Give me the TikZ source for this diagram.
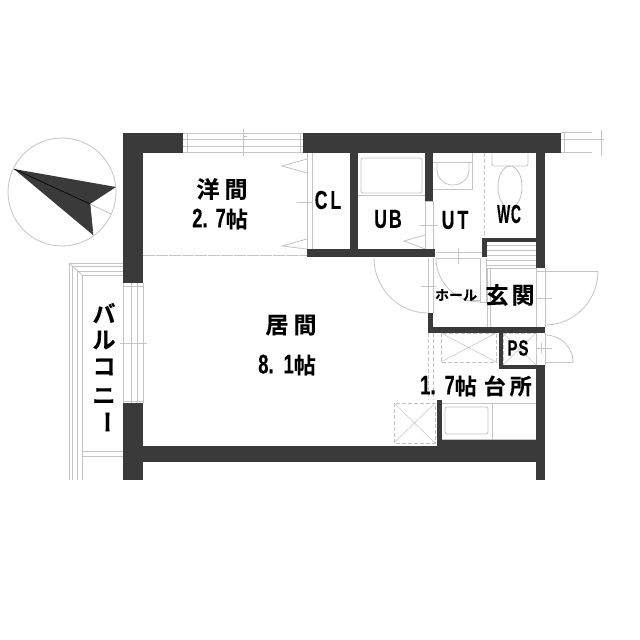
\documentclass[tikz,border=0pt]{standalone}
\usepackage{fontspec}
\newfontfamily\jpf[FakeBold=0.4]{Noto Sans CJK JP Bold}
\newfontfamily\latf[FakeStretch=0.68,FakeBold=0.3]{Liberation Sans Bold}
\definecolor{wallc}{HTML}{3A3A3A}
\definecolor{linec}{HTML}{C4C4C4}
\tikzset{
 wall/.style={fill=wallc,draw=none},
 thin line/.style={draw=linec,line width=0.8pt},
 dash line/.style={draw=linec,line width=0.9pt,dash pattern=on 4pt off 2pt},
 lbl/.style={inner sep=0pt,text=black,anchor=center},
}
\newcommand{\J}[1]{{\jpf #1}}
\newcommand{\Lt}[1]{{\latf #1}}
\begin{document}
\begin{tikzpicture}[x=1pt,y=-1pt]
\useasboundingbox (0,0) rectangle (640,640);
\fill[white] (0,0) rectangle (640,640);
% compass
\draw[draw=linec,line width=0.8pt] (62,192) circle (54);
\fill[wallc] (14,169) -- (116,187) -- (90,204) -- (93,235) -- cycle;
\draw[black,line width=0.6pt] (14,169) -- (90,204);
\draw[thin line] (90,204) -- (111,214);
\draw[draw=wallc,line width=0.6pt] (90,204) -- (93,235);
% balcony
\begin{scope}[thin line]
\draw (69,480) -- (69,263) -- (123,263);
\draw (72,480) -- (72,266) -- (123,266);
\draw (77,480) -- (77,271) -- (123,271);
\draw (82,480) -- (82,275) -- (123,275);
\draw (82,451) -- (123,451);
\draw (82,456) -- (123,456);
\draw (69,263) -- (82,275);
% left window
\draw (123,283) -- (123,403);
\draw (131,283) -- (131,403);
\draw (137,283) -- (137,403);
\draw (143,283) -- (143,403);
\draw (123,286) -- (143,286);
\draw (123,401) -- (143,401);
\draw (120,343) -- (147,343);
\draw (131,339) -- (131,347);
% top window
\draw (183,133) -- (303,133);
\draw (183,139) -- (303,139);
\draw (183,146) -- (303,146);
\draw (183,152) -- (303,152);
\draw (187,133) -- (187,152);
\draw (300,133) -- (300,152);
\draw (243,129) -- (243,156);
\draw (243,136) -- (247,136);
\draw (243,146) -- (247,146);
% right top window
\draw (561,132) -- (592,132);
\draw (561,139) -- (604,139);
\draw (561,152) -- (592,152);
\draw (564,132) -- (564,153);
\draw (601,130) -- (601,156);
% room divider
\draw[dash line,line width=0.6pt,dash pattern=on 12pt off 1pt] (143,255) -- (307,255);
% CL
\draw (307,153) -- (307,249);
\draw (312,153) -- (312,249);
\draw (307,159) -- (282,166) -- (307,173);
\draw (307,239) -- (282,246) -- (307,249);
\draw (297,202) -- (312,202);
% UB
\draw[rounded corners=2pt] (361,158) rectangle (422,193);
\draw (358,195) -- (425,195);
\draw (425,201) -- (425,249);
\draw (433,201) -- (433,249);
\draw (425,201) -- (433,201);
\draw (425,235) -- (404,241) -- (425,249);
\draw (420,225) -- (438,225);
% UT sink
\draw (433,189) -- (472,189) -- (472,153);
\draw (437,162) -- (437,170) arc (180:0:16 and 15) -- (469,162);
\draw (433,162) -- (472,162);
% WC
\draw[rounded corners=2pt] (492,153) -- (492,166) -- (528,166) -- (528,153);
\draw (510,187) ellipse (12 and 21);
% left doors and hall
\draw (428,258) -- (428,313);
\draw (433,258) -- (433,313);
\draw (374,258) arc (180:90:54 and 55);
\draw (436,252) -- (482,252);
\draw (436,258) -- (480,258);
\draw (480,258) -- (480,302) -- (486,302) -- (486,258);
\draw (465,300) -- (480,300);
\draw (436,258) arc (180:90:44 and 44);
\draw (458,248) -- (458,264);
\draw (421,286) -- (436,286);
% entrance
\foreach \yy in {245,250,255,260,265} \draw (487,\yy) -- (536,\yy);
\draw (487,268) -- (536,268);
\draw (487,268) -- (487,327);
\draw (490,268) -- (490,327);
\draw (536,268) -- (536,327);
\draw (536,271) -- (598,271);
\draw (598,271) arc (0:90:53 and 54);
\draw (536,298) -- (552,298);
\draw (545,268) -- (545,327);
% PS door
\draw (536,333) -- (536,365);
\draw (545,333) -- (545,365);
\draw (545,335) arc (-90:0:28 and 27);
\draw (573,362) -- (545,362);
\draw (536,348) -- (552,348);
\draw (541,343) -- (541,353);
% kitchen
\draw (442,403) -- (536,403);
\draw (442,439) -- (536,439);
\draw (492,403) -- (492,439);
\draw[rounded corners=2pt] (445,407) rectangle (488,434);
\end{scope}
\begin{scope}[dash line]
\draw (484,153) -- (484,237);
\draw (441,333) rectangle (496,362);
\draw[line width=0.5pt,dash pattern=] (441,333) -- (496,362) (441,362) -- (496,333);
\draw (428,333) -- (428,400);
\draw (433,333) -- (433,400);
\draw (394,403) rectangle (435,443);
\draw[line width=0.5pt,dash pattern=] (394,403) -- (435,443) (394,443) -- (435,403);
\draw (503,333) rectangle (536,365);
\draw[line width=0.5pt,dash pattern=] (503,333) -- (536,365) (503,365) -- (536,333);
\end{scope}
% walls
\fill[wall] (123,133) rectangle (183,153);
\fill[wall] (123,133) rectangle (143,283);
\fill[wall] (123,403) rectangle (143,480);
\fill[wall] (123,446) rectangle (536,462);
\fill[wall] (442,440) rectangle (536,446);
\fill[wall] (536,365) rectangle (545,480);
\fill[wall] (303,133) rectangle (561,153);
\fill[wall] (536,153) rectangle (545,268);
\fill[wall] (350,153) rectangle (358,257);
\fill[wall] (307,249) rectangle (435,257);
\fill[wall] (425,153) rectangle (433,201);
\fill[wall] (482,238) rectangle (536,242);
\fill[wall] (482,238) rectangle (487,257);
\fill[wall] (428,313) rectangle (433,332);
\fill[wall] (428,327) rectangle (545,333);
\fill[wall] (499,333) rectangle (503,369);
\fill[wall] (499,365) rectangle (536,369);
\fill[wall] (437,400) rectangle (442,446);
% labels
\node[lbl,font=\fontsize{23}{23}\selectfont] (yoma) at (222,189) {\J{洋\hspace{5pt}間}};
\node[lbl,font=\fontsize{27}{27}\selectfont] (yomaj) at (220,219) {\Lt{2.\hspace{8pt}7}\J{\fontsize{22}{22}\selectfont 帖}};
\node[lbl,font=\fontsize{26}{26}\selectfont] (cl) at (328,200) {\Lt{C\hspace{3pt}L}};
\node[lbl,font=\fontsize{26}{26}\selectfont] (ub) at (388,219) {\Lt{U\hspace{2pt}B}};
\node[lbl,font=\fontsize{26}{26}\selectfont] (ut) at (455,220) {\Lt{U\hspace{3pt}T}};
\node[lbl,font=\fontsize{26}{26}\selectfont,xscale=0.78] (wc) at (509,214) {\Lt{W\hspace{1pt}C}};
\node[lbl,font=\fontsize{14}{14}\selectfont] (hall) at (456,295) {\J{ホール}};
\node[lbl,font=\fontsize{23}{23}\selectfont] (genkan) at (510,295) {\J{玄\hspace{3pt}関}};
\node[lbl,font=\fontsize{23}{23}\selectfont] (kyoma) at (291,325) {\J{居\hspace{5pt}間}};
\node[lbl,font=\fontsize{27}{27}\selectfont] (kyomaj) at (287,365) {\Lt{8.\hspace{10pt}1}\J{\fontsize{22}{22}\selectfont 帖}};
\node[lbl,font=\fontsize{27}{27}\selectfont] (kit) at (476,386) {\Lt{1.\hspace{9pt}7}\J{\fontsize{22}{22}\selectfont 帖\hspace{7pt}台\hspace{4pt}所}};
\node[lbl,font=\fontsize{22}{22}\selectfont] (ps) at (518,348) {\Lt{P\hspace{1pt}S}};
\node[lbl,font=\fontsize{23}{23}\selectfont] (b1) at (104,313) {\J{バ}};
\node[lbl,font=\fontsize{23}{23}\selectfont] (b2) at (104,340) {\J{ル}};
\node[lbl,font=\fontsize{23}{23}\selectfont] (b3) at (104,367) {\J{コ}};
\node[lbl,font=\fontsize{23}{23}\selectfont] (b4) at (104,396) {\J{ニ}};
\node[lbl,font=\fontsize{23}{23}\selectfont,rotate=-90] (b5) at (104,422) {\J{ー}};
\end{tikzpicture}
\end{document}
